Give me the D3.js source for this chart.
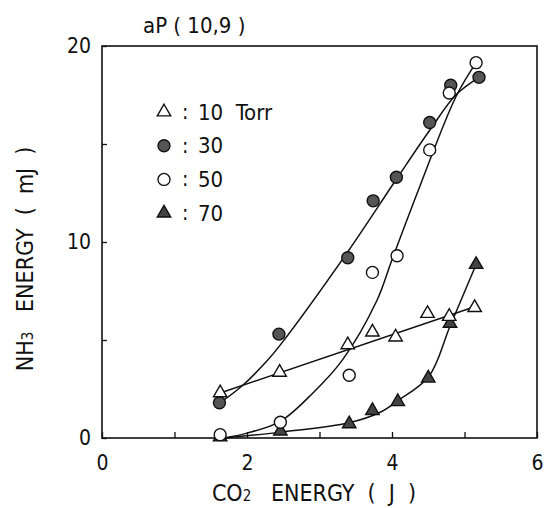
<!DOCTYPE html>
<html>
<head>
<meta charset="utf-8">
<script src="https://cdn.jsdelivr.net/npm/d3@7"></script>
<style>
body { margin: 0; background: #fff; }
text { font-family: "Liberation Sans Narrow", "DejaVu Sans Condensed", "Liberation Sans", sans-serif; fill: #111; }
</style>
</head>
<body>
<div id="container"></div>
<script>
// measured points, [CO2 energy (J), NH3 energy (mJ)]
var torr10 = [[1.63, 2.3], [2.45, 3.35], [3.39, 4.75], [3.73, 5.4], [4.05, 5.15], [4.49, 6.35], [4.79, 6.2], [5.14, 6.65]];
var torr30 = [[1.62, 1.8], [2.44, 5.3], [3.39, 9.2], [3.74, 12.1], [4.06, 13.3], [4.52, 16.1], [4.81, 18.0], [5.2, 18.4]];
var torr50 = [[1.63, 0.17], [2.46, 0.8], [3.41, 3.2], [3.73, 8.45], [4.07, 9.3], [4.52, 14.7], [4.79, 17.6], [5.16, 19.15]];
var torr70 = [[1.63, 0.05], [2.46, 0.35], [3.41, 0.72], [3.73, 1.4], [4.08, 1.85], [4.5, 3.05], [4.8, 5.85], [5.16, 8.85]];

// hand-drawn fit curves
var fit10 = [[1.63, 2.3], [5.14, 6.7]];
var fit30 = [[1.63, 1.8], [1.93, 2.65], [2.28, 3.95], [2.46, 4.75], [3.39, 9.5], [4.06, 13.2], [4.52, 15.7], [4.88, 17.5], [5.2, 18.4]];
var fit50 = [[1.68, 0], [2.0, 0.25], [2.46, 0.85], [2.91, 2.3], [3.32, 4.0], [3.79, 7.0], [4.0, 9.1], [4.39, 12.9], [4.88, 17.4], [5.16, 19.15]];
var fit70 = [[1.7, 0], [2.46, 0.3], [3.41, 0.78], [3.83, 1.3], [4.08, 1.9], [4.51, 3.15], [4.8, 5.7], [5.16, 8.85]];

var xTicks = [0, 1, 2, 3, 4, 5, 6];
var yTicks = [0, 5, 10, 15, 20];
var legendLabels = ["10  Torr", "30", "50", "70"];

var Chart = {
    WIDTH: 549,
    HEIGHT: 508,
    LEFT: 102,
    TOP: 46,
    RIGHT: 537,
    BOTTOM: 438
};

var svg = d3.select("#container").append("svg")
        .attr("width", Chart.WIDTH)
        .attr("height", Chart.HEIGHT);

var x = d3.scaleLinear().domain([0, 6]).range([Chart.LEFT, Chart.RIGHT]);
var y = d3.scaleLinear().domain([0, 20]).range([Chart.BOTTOM, Chart.TOP]);

// axes, ticks pointing inward
var xAxis = svg.append("g")
        .attr("transform", "translate(0," + Chart.BOTTOM + ")")
        .call(d3.axisBottom(x).tickValues(xTicks).tickSize(-6).tickPadding(17)
            .tickFormat(function (d) { return d % 2 === 0 ? d : ""; }));
var yAxis = svg.append("g")
        .attr("transform", "translate(" + Chart.LEFT + ",0)")
        .call(d3.axisLeft(y).tickValues(yTicks).tickSize(-5).tickPadding(11)
            .tickFormat(function (d) { return d % 10 === 0 ? d : ""; }));
[xAxis, yAxis].forEach(function (a) {
    a.select(".domain").remove();
    a.selectAll("line").attr("stroke", "#111").attr("stroke-width", 1.3);
    a.selectAll("text").attr("font-size", "21px").attr("fill", "#111");
});

// frame
svg.append("rect")
        .attr("x", Chart.LEFT)
        .attr("y", Chart.TOP)
        .attr("width", Chart.RIGHT - Chart.LEFT)
        .attr("height", Chart.BOTTOM - Chart.TOP)
        .style("fill", "none")
        .style("stroke", "#111")
        .style("stroke-width", "1.6");

// fit curves
var line = d3.line()
        .x(function (d) { return x(d[0]); })
        .y(function (d) { return y(d[1]); })
        .curve(d3.curveCatmullRom.alpha(0.5));
[fit10, fit30, fit50, fit70].forEach(function (f) {
    svg.append("path")
            .attr("d", line(f))
            .style("fill", "none")
            .style("stroke", "#111")
            .style("stroke-width", "1.5");
});

// markers
var tri = d3.symbol().type(d3.symbolTriangle).size(78);
var styles = [
    {data: torr10, shape: "tri", fill: "#fff"},
    {data: torr30, shape: "circle", fill: "#555"},
    {data: torr50, shape: "circle", fill: "#fff"},
    {data: torr70, shape: "tri", fill: "#444"}
];

function drawMarker(g, shape, fill, cx, cy) {
    if (shape === "circle") {
        g.append("circle")
                .attr("cx", cx).attr("cy", cy).attr("r", 6)
                .style("fill", fill).style("stroke", "#111").style("stroke-width", "1.4");
    } else {
        g.append("path")
                .attr("d", tri())
                .attr("transform", "translate(" + cx + "," + cy + ")")
                .style("fill", fill).style("stroke", "#111").style("stroke-width", "1.4");
    }
}

// draw in an order close to the figure: 70, 30, 50, 10
[3, 1, 2, 0].forEach(function (k) {
    var s = styles[k];
    var g = svg.append("g");
    s.data.forEach(function (d) {
        drawMarker(g, s.shape, s.fill, x(d[0]), y(d[1]));
    });
});

// legend
var legend = svg.append("g");
styles.forEach(function (s, i) {
    var ly = 112 + i * 33.7;
    drawMarker(legend, s.shape, s.fill, 164, ly);
    legend.append("text").attr("x", 182).attr("y", ly + 7).attr("font-size", "21px").text(":");
    legend.append("text").attr("x", 198).attr("y", ly + 7.5).attr("font-size", "22px")
            .attr("xml:space", "preserve").text(legendLabels[i]);
});

// titles
svg.append("text")
        .attr("x", 143).attr("y", 33)
        .attr("font-size", "22px")
        .attr("xml:space", "preserve")
        .text("aP ( 10,9 )");

var xt = svg.append("text")
        .attr("x", 314).attr("y", 501)
        .attr("text-anchor", "middle")
        .attr("font-size", "23px")
        .attr("xml:space", "preserve");
xt.append("tspan").text("CO");
xt.append("tspan").attr("font-size", "15px").text("2");
xt.append("tspan").text("   ENERGY  (  J  )");

var yt = svg.append("text")
        .attr("transform", "translate(33,259) rotate(-90)")
        .attr("text-anchor", "middle")
        .attr("font-size", "23px")
        .attr("xml:space", "preserve");
yt.append("tspan").text("NH");
yt.append("tspan").attr("font-size", "15px").text("3");
yt.append("tspan").text("   ENERGY  (  mJ  )");
</script>
</body>
</html>
